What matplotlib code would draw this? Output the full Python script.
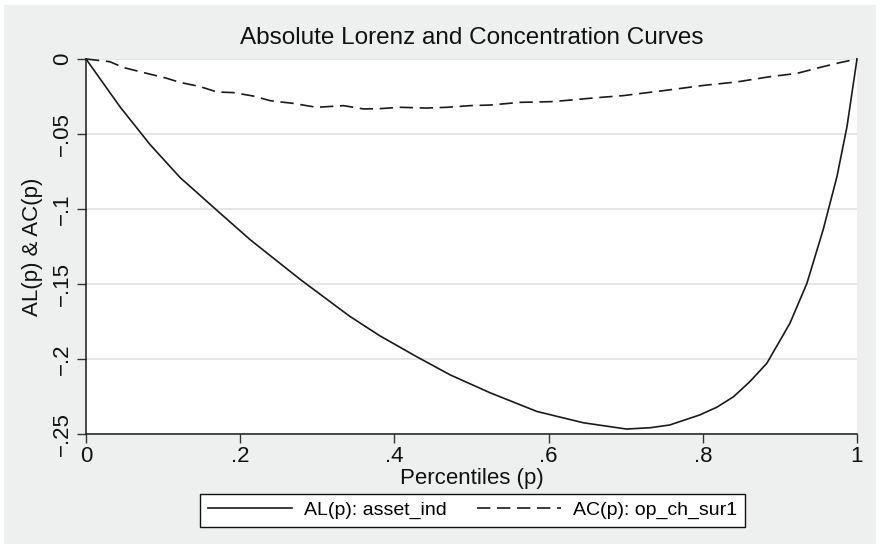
import matplotlib
matplotlib.use("Agg")
import matplotlib.pyplot as plt
from matplotlib.patches import Rectangle

# data
p_al = [0.0, 0.044, 0.083, 0.122, 0.170, 0.213, 0.278, 0.342, 0.381, 0.429,
        0.472, 0.524, 0.585, 0.645, 0.701, 0.732, 0.757, 0.796, 0.818, 0.840,
        0.861, 0.883, 0.913, 0.935, 0.956, 0.974, 0.987, 1.0]
al = [0.0, -0.0318, -0.0570, -0.0790, -0.1010, -0.1205, -0.1470, -0.1715, -0.1845, -0.1985,
      -0.2105, -0.2225, -0.2350, -0.2425, -0.2467, -0.2458, -0.2440, -0.2373, -0.2322, -0.2251,
      -0.2151, -0.2029, -0.1762, -0.1496, -0.1140, -0.0784, -0.0451, 0.0]

p_ac = [0.0, 0.031, 0.048, 0.079, 0.105, 0.122, 0.148, 0.170, 0.191, 0.217,
        0.239, 0.269, 0.299, 0.334, 0.360, 0.381, 0.407, 0.442, 0.468, 0.498,
        0.524, 0.563, 0.606, 0.662, 0.697, 0.749, 0.801, 0.844, 0.887, 0.922,
        0.956, 0.978, 1.0]
ac = [0.0, -0.0018, -0.0056, -0.0096, -0.0129, -0.0156, -0.0184, -0.0220, -0.0224, -0.0247,
      -0.0278, -0.0296, -0.0322, -0.0311, -0.0333, -0.0331, -0.0322, -0.0327, -0.0322, -0.0311,
      -0.0307, -0.0289, -0.0284, -0.0258, -0.0244, -0.0211, -0.0176, -0.0153, -0.0118, -0.0096,
      -0.0051, -0.0024, 0.0]

x_ticks = [0, 0.2, 0.4, 0.6, 0.8, 1.0]
x_ticklabels = ["0", ".2", ".4", ".6", ".8", "1"]
y_ticks = [0, -0.05, -0.1, -0.15, -0.2, -0.25]
y_ticklabels = ["0", "\u2212.05", "\u2212.1", "\u2212.15", "\u2212.2", "\u2212.25"]

plt.rcParams['font.family'] = ['Liberation Sans', 'DejaVu Sans']

W, H = 881, 548
fig = plt.figure(figsize=(W / 100, H / 100), dpi=100, facecolor="white")

# grey panel behind everything
fig.patches.append(Rectangle((4 / W, 4 / H), 872 / W, 539 / H, transform=fig.transFigure,
                             facecolor="#eef0f0", edgecolor="none", zorder=-10))

ax = fig.add_axes([86 / W, 1 - 434 / H, 771 / W, 375 / H])
ax.set_facecolor("white")

line_col = "#1a1a1a"
ax.plot(p_al, al, color=line_col, lw=1.2, label="AL(p): asset_ind", clip_on=False, zorder=3)
ax.plot(p_ac, ac, color=line_col, lw=1.2, ls=(0, (8, 4)), label="AC(p): op_ch_sur1",
        clip_on=False, zorder=3)

ax.set_xlim(0, 1)
ax.set_ylim(-0.25, 0)
ax.set_xticks(x_ticks)
ax.set_xticklabels(x_ticklabels)
ax.set_yticks(y_ticks)
ax.set_yticklabels(y_ticklabels, rotation=90, va="center")

for s in ["top", "right"]:
    ax.spines[s].set_visible(False)
for s in ["left", "bottom"]:
    ax.spines[s].set_color(line_col)
    ax.spines[s].set_linewidth(1.1)

ax.tick_params(axis="both", direction="out", length=6.5, width=1.0, color="#333333",
               labelsize=16, labelcolor="#111111")
ax.tick_params(axis="x", pad=2)
ax.tick_params(axis="y", pad=3)

ax.grid(axis="y", color="#e6e6e6", lw=1.4)
ax.set_axisbelow(True)

ax.set_title("Absolute Lorenz and Concentration Curves", fontsize=17.5, pad=11, color="#111111")
ax.set_xlabel("Percentiles (p)", fontsize=16, labelpad=1, color="#111111")
ax.set_ylabel("AL(p) & AC(p)", fontsize=16, labelpad=6, color="#111111")

leg = ax.legend(loc="center", bbox_to_anchor=(472.5 / W, 1 - 510.5 / H),
                bbox_transform=fig.transFigure, ncol=2, fontsize=14, frameon=True,
                fancybox=False, edgecolor="#111111", framealpha=1, handlelength=4.3,
                handletextpad=0.6, columnspacing=1.6, borderpad=0.4)
leg.get_frame().set_linewidth(1.0)

fig.savefig("out.png", dpi=100, facecolor=fig.get_facecolor())
